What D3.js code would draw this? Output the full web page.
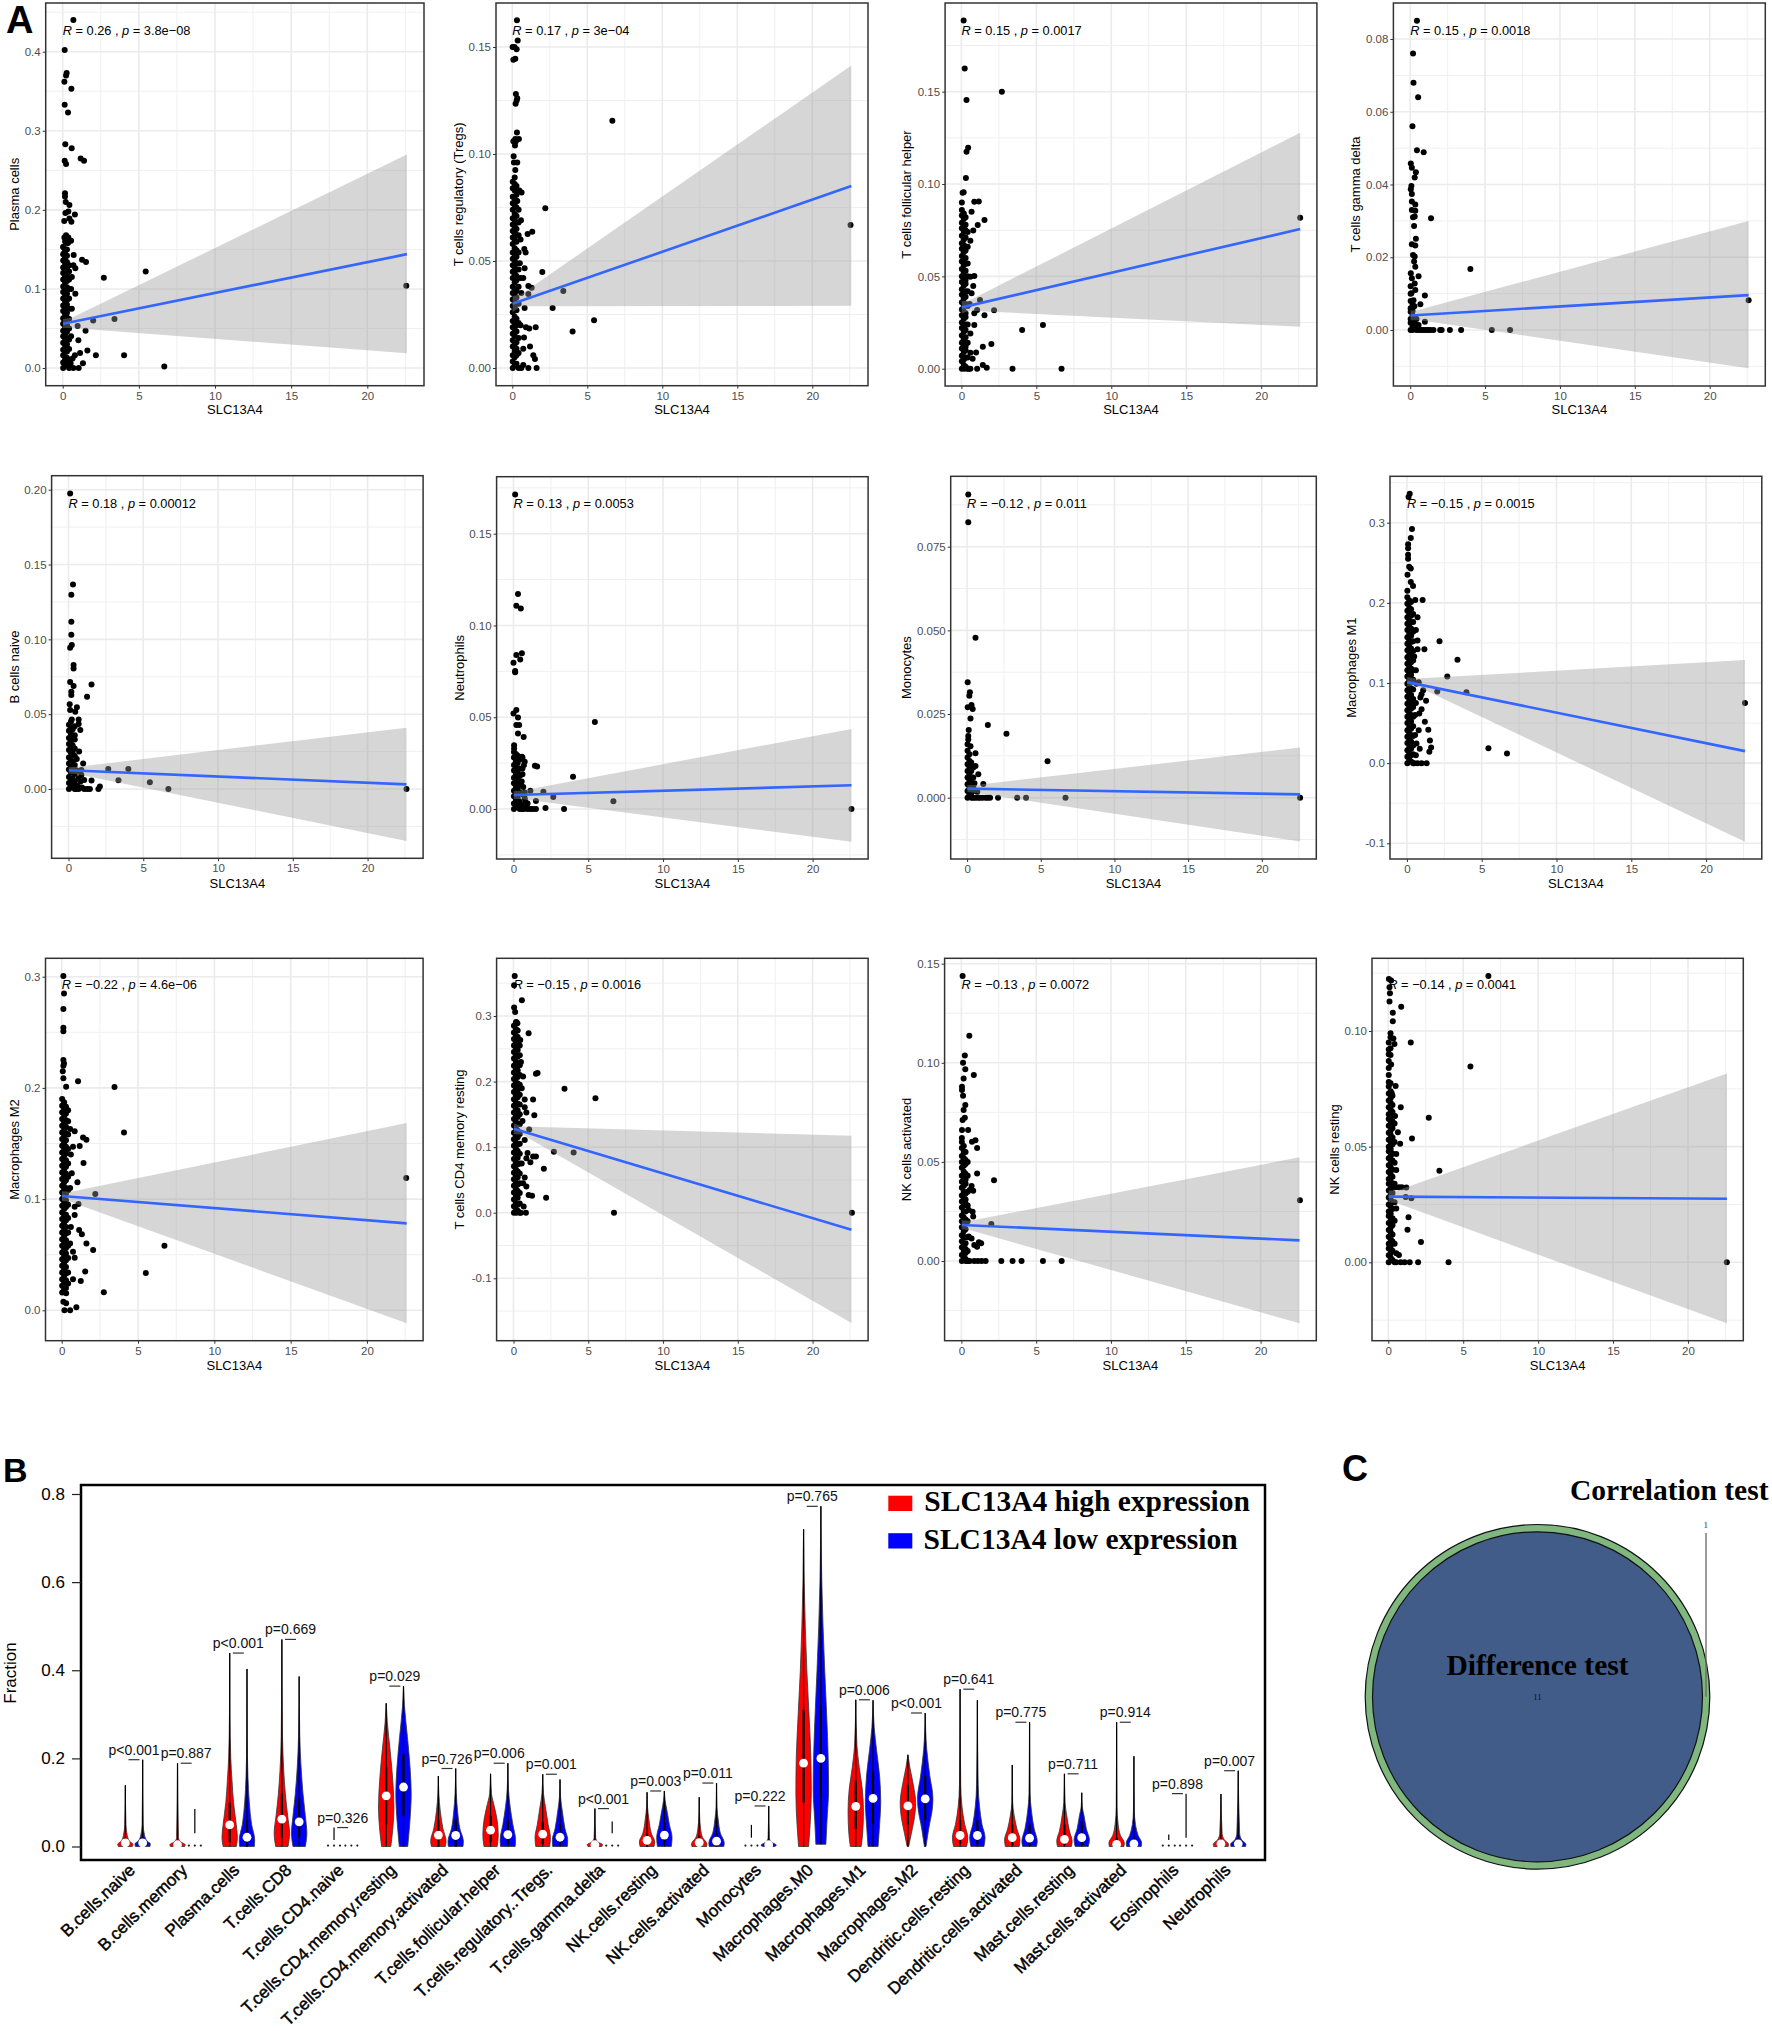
<!DOCTYPE html>
<html>
<head>
<meta charset="utf-8">
<title>SLC13A4 immune infiltration</title>
<script src="https://cdn.jsdelivr.net/npm/d3@7"></script>
<style>
  html, body { margin: 0; padding: 0; background: #fff; }
  svg { display: block; font-family: "Liberation Sans", Arial, sans-serif; }
</style>
</head>
<body>
<div id="chart"></div>
<script>
// ---- panel A data ----
const yTitles = ['Plasma cells', 'T cells regulatory (Tregs)', 'T cells follicular helper', 'T cells gamma delta',
  'B cells naive', 'Neutrophils', 'Monocytes', 'Macrophages M1',
  'Macrophages M2', 'T cells CD4 memory resting', 'NK cells activated', 'NK cells resting'];
const rValues = ['0.26', '0.17', '0.15', '0.15', '0.18', '0.13', '\u22120.12', '\u22120.15', '\u22120.22', '\u22120.15', '\u22120.13', '\u22120.14'];
const pValues = ['3.8e\u221208', '3e\u221204', '0.0017', '0.0018', '0.00012', '0.0053', '0.011', '0.0015', '4.6e\u221206', '0.0016', '0.0072', '0.0041'];
const xTicks = [0, 5, 10, 15, 20];
const yTickLabels = [
  ['0.0', '0.1', '0.2', '0.3', '0.4'], ['0.00', '0.05', '0.10', '0.15'], ['0.00', '0.05', '0.10', '0.15'], ['0.00', '0.02', '0.04', '0.06', '0.08'],
  ['0.00', '0.05', '0.10', '0.15', '0.20'], ['0.00', '0.05', '0.10', '0.15'], ['0.000', '0.025', '0.050', '0.075'], ['-0.1', '0.0', '0.1', '0.2', '0.3'],
  ['0.0', '0.1', '0.2', '0.3'], ['-0.1', '0.0', '0.1', '0.2', '0.3'], ['0.00', '0.05', '0.10', '0.15'], ['0.00', '0.05', '0.10']
];
// regression line and confidence band, read at x = fitX / ciX
const fitX = [0.02, 22.6];
const fitY = [[.056, .144], [.03, .085], [.0332, .0756], [.004, .0096], [.0125, .0031], [.0076, .0129],
  [.0027, .001], [.1011, .015], [.1028, .0782], [.1279, -.0259], [.0182, .0104], [.0284, .0275]];
const ciX = [0.02, 0.6, 22.6];
const ciHi = [[.062, .0635, .27], [.0336, .0345, .1413], [.0365, .0372, .1278], [.0053, .0056, .03], [.0145, .0148, .041], [.0098, .0101, .0436],
  [.0037, .0038, .015], [.1075, .1055, .1286], [.107, .1065, .1684], [.136, .1315, .1173], [.0205, .0203, .0523], [.031, .031, .0816]];
const ciLo = [[.0505, .0505, .0186], [.0262, .0288, .0291], [.03, .0314, .0227], [.0027, .0027, -.0105], [.0103, .0098, -.0347], [.0054, .0053, -.0178],
  [.0017, .0014, -.0131], [.0955, .0965, -.0982], [.0985, .0975, -.0117], [.12, .1188, -.168], [.016, .0155, -.0314], [.026, .0255, -.0264]];

// the crowded column next to x = 0: four strips of y values at denseX
const denseX = [0.03, 0.16, 0.42, 0.28];
const plasmaDense = [
  [0, .007, .016, .023, .032, .04, .047, .056, .063, .072, .079, .088, .096, .103, .112, .12, .127, .136, .144, .153],
  [.003, .011, .02, .028, .035, .044, .052, .06, .068, .076, .084, .092, .1, .108, .116, .124, .132, .14, .148, .16],
  [0, .01, .024, .036, .05, .062, .075, .088, .1, .112, .122, .13],
  [.005, .013, .021, .03, .038, .046, .054, .064, .07, .08, .086, .094, .102, .11, .118, .126, .134, .142, .15, .158]];
const tregDense = [
  [0, .003, .006, .01, .013, .016, .019, .022, .026, .029, .032, .035, .038, .042, .045, .048, .051, .054, .058, .061, .064, .067, .07, .074, .077, .08, .084, .087],
  [.001, .005, .008, .011, .015, .018, .021, .024, .028, .031, .034, .037, .04, .044, .047, .05, .053, .056, .06, .063, .066, .069, .072, .076, .079, .083, .086, .089],
  [0, .007, .014, .021, .03, .038, .046, .054, .062, .068, .074],
  [.002, .006, .009, .012, .017, .02, .023, .027, .03, .033, .036, .041, .043, .046, .049, .052, .055, .059, .062, .065, .068, .071, .075, .078, .081, .085]];
const tfhDense = [
  [0, .004, .007, .011, .014, .018, .022, .025, .029, .032, .036, .04, .043, .047, .05, .054, .058, .061, .065, .068, .072, .076, .079, .083, .086, .09],
  [.002, .005, .009, .013, .016, .02, .023, .027, .031, .034, .038, .041, .045, .049, .052, .056, .059, .063, .067, .07, .074, .077, .081, .084],
  [0, .006, .014, .024, .034, .042, .05, .057, .066, .074],
  [.001, .006, .01, .012, .017, .021, .024, .028, .03, .035, .039, .042, .046, .048, .053, .057, .06, .064, .066, .071, .075, .078, .082]];
const gammaDense = [
  [0, .002, .003, .005, .006, .008, .01, .012],
  [0, .001, .002, .004, .0052, .007],
  [0, .001, .003, .0015],
  [.0005, .0035, .0065]];
const bnaiveDense = [
  [0, .004, .008, .013, .017, .021, .026, .03, .034, .039, .043],
  [.002, .006, .011, .015, .019, .024, .028, .032, .037, .041, .045],
  [0, .005, .01, .016, .022, .027, .033, .036, .042],
  [.001, .003, .007, .012, .014, .018, .023, .025, .029, .033, .035, .04]];
const neutroDense = [
  [0, .003, .007, .01, .014, .017, .021, .024, .028, .031],
  [.001, .005, .008, .012, .016, .019, .023, .026, .03],
  [0, .004, .009, .013, .018, .022, .027],
  [.002, .004, .006, .009, .011, .015, .018, .02, .025, .029]];
const monoDense = [
  [0, .002, .004, .006, .008, .01, .012, .014, .016],
  [.001, .003, .005, .007, .009, .011, .013],
  [0, .002, .004, .006, .009, .0035],
  [.0005, .0025, .0055, .008, .0105]];
const m1Dense = [
  [0, .008, .016, .025, .033, .041, .05, .058, .066, .074, .083, .091, .099, .108, .116, .124, .132, .141, .149, .157, .166, .174, .182, .19, .199, .207, .215],
  [.004, .012, .02, .029, .037, .045, .054, .062, .07, .078, .087, .095, .103, .112, .12, .128, .136, .145, .153, .161, .17, .178, .186, .194, .203],
  [0, .011, .022, .034, .046, .058, .07, .08, .092, .104, .116, .128, .14, .152, .164, .176, .186],
  [.002, .01, .018, .027, .035, .043, .052, .06, .068, .076, .085, .093, .101, .11, .118, .126, .134, .143, .151, .159, .168, .176, .184, .192, .201]];
const m2Dense = [
  [.016, .022, .028, .034, .04, .046, .052, .058, .064, .07, .076, .082, .088, .094, .1, .106, .112, .118, .124, .13, .136, .142, .148, .154, .16, .166, .172, .178, .184, .19],
  [.019, .025, .031, .037, .043, .049, .055, .061, .067, .073, .079, .085, .091, .097, .103, .109, .115, .121, .127, .133, .139, .145, .151, .157, .163, .169, .175, .181, .187],
  [.024, .034, .047, .058, .07, .083, .095, .108, .12, .132, .145, .158, .17, .18],
  [.02, .027, .033, .039, .045, .051, .056, .063, .069, .075, .081, .086, .093, .099, .105, .11, .117, .123, .129, .135, .141, .147, .153, .159, .165, .171, .177, .183]];
const cd4Dense = [
  [0, .01, .02, .031, .041, .051, .061, .071, .082, .092, .102, .112, .122, .133, .143, .153, .163, .173, .184, .194, .204, .214, .224, .235, .245, .255, .265, .275, .285],
  [.005, .015, .026, .036, .046, .056, .066, .077, .087, .097, .107, .117, .128, .138, .148, .158, .168, .179, .189, .199, .209, .219, .23, .24, .25, .26, .27, .28, .29],
  [0, .014, .03, .045, .06, .075, .09, .105, .12, .135, .15, .165, .18, .195, .21, .225, .24, .255],
  [.003, .012, .023, .033, .043, .054, .063, .074, .084, .094, .104, .115, .125, .136, .146, .156, .166, .176, .187, .197, .207, .217, .227, .238, .248, .258, .268, .278]];
const nkaDense = [
  [0, .003, .007, .01, .013, .017, .02, .023, .027, .03, .033, .037, .04, .043, .047, .05, .053, .057, .06, .062],
  [.002, .005, .008, .012, .015, .018, .022, .025, .028, .032, .035, .038, .042, .045, .048, .052, .055, .058],
  [0, .005, .012, .02, .028, .035, .043, .05],
  [.001, .004, .006, .009, .012, .016, .019, .021, .025, .029, .031, .034, .039, .041, .044, .049, .051, .055]];
const nkrDense = [
  [0, .003, .006, .008, .011, .014, .017, .02, .022, .025, .028, .031, .034, .036, .039, .042, .045, .048, .05, .053, .056, .059, .062, .064, .067, .07, .073, .076, .078, .081, .084, .087, .09, .092, .095],
  [.002, .004, .007, .01, .013, .015, .018, .021, .024, .027, .029, .032, .035, .038, .041, .043, .046, .049, .052, .055, .057, .06, .063, .066, .069, .071, .074],
  [0, .008, .018, .026, .034, .043, .052, .06],
  [.001, .005, .009, .012, .016, .019, .023, .026, .03, .033, .037, .04, .044, .047, .051, .054, .058, .061, .065, .068, .072]];

// the points that can be told apart, [x, y]
const plasmaPts = [[.7, .44], [.13, .402], [.22, .37], [.26, .373], [.11, .362], [.57, .353], [.13, .333], [.35, .323], [.17, .283], [.59, .278], [.13, .262], [.22, .258], [1.18, .265], [1.4, .262], [.15, .221], [.15, .217], [.2, .21], [.44, .206], [.18, .196], [.8, .194], [.37, .198], [.1, .186], [.57, .185], [.44, .189], [.22, .168], [.37, .165], [.55, .161], [.11, .165], [.35, .158], [.05, .153], [.72, .143], [1.27, .137], [1.53, .134], [.09, .145], [.7, .13], [.83, .126], [2.7, .114], [5.45, .122], [22.56, .104], [.83, .094], [3.4, .062], [2, .06], [.98, .053], [1.5, .047], [1.03, .035], [1.62, .022], [2.18, .016], [4.03, .016], [6.67, .002], [1.33, .006], [1.05, 0], [1.14, .019], [.8, .016], [.65, .012], [.52, .006], [.6, .115], [.55, .1], [.6, .075], [.55, .04], [.7, 0]];
const tregPts = [[.31, .1625], [.36, .153], [.02, .15], [.15, .15], [.29, .149], [.07, .144], [.2, .1445], [.24, .128], [.33, .126], [.29, .125], [.22, .1235], [6.67, .1155], [.31, .11], [.2, .107], [.44, .107], [.07, .106], [.24, .106], [.18, .104], [.09, .099], [.11, .096], [.33, .096], [.2, .0925], [2.2, .0746], [22.55, .0668], [1.33, .0637], [1.02, .0626], [.58, .069], [.8, .0556], [.89, .054], [.82, .0466], [2, .0449], [1.07, .0383], [1.29, .0375], [3.4, .036], [1.07, .0346], [2.69, .028], [.82, .028], [5.45, .0223], [4.02, .017], [.91, .019], [1.13, .0185], [1.56, .019], [.78, .0142], [1.18, .0101], [1.4, .006], [1.51, .0042], [1.62, 0], [1.07, 0], [.73, .0014], [.73, .009], [.56, .042], [.73, .042], [.5, .049], [.47, .083], [.62, .082], [.33, .078], [.55, .06], [.6, .035], [.55, .02], [.6, 0]];
const tfhPts = [[.15, .1885], [.22, .1625], [2.7, .15], [.34, .1455], [.45, .1197], [.34, .1175], [.3, .1032], [.08, .0953], [.15, .0955], [.86, .0904], [1.16, .0906], [1.54, .0805], [22.6, .0818], [1.09, .0778], [.79, .0749], [.68, .085], [.6, .0693], [.86, .0502], [.6, .0498], [.79, .0448], [.68, .0408], [1.24, .0372], [2.18, .0316], [1.54, .029], [.86, .0236], [5.44, .0236], [4.05, .0209], [2, .0134], [1.43, .0119], [.98, .0088], [.6, .0087], [.75, .0054], [1.43, .002], [1.69, .0005], [1.05, 0], [3.41, 0], [6.68, 0], [.49, 0], [.22, 0], [.86, .03], [1.05, .0318], [.6, .019], [.55, .035], [.6, 0]];
const gammaPts = [[.45, .085], [.19, .076], [.22, .068], [.53, .064], [.15, .056], [.45, .0494], [.9, .0489], [.04, .0458], [.11, .0446], [.38, .0434], [.3, .0419], [.08, .0396], [.04, .0387], [.11, .0374], [.11, .0353], [.34, .0345], [.11, .033], [.34, .0328], [.19, .031], [1.39, .0307], [.3, .0312], [.26, .0286], [.38, .0251], [.11, .0236], [.34, .0232], [.19, .0206], [.3, .0202], [.26, .0188], [4.02, .0168], [.34, .0174], [.04, .0156], [.56, .0148], [.11, .0142], [.3, .0128], [.34, .011], [.98, .0095], [.08, .0101], [.22, .0082], [.68, .0071], [22.6, .0082], [.11, .0055], [.98, .0023], [.19, .0023], [.56, .0014], [.6, 0], [.75, 0], [.9, 0], [1.05, 0], [1.2, 0], [1.35, 0], [1.55, 0], [2, 0], [2.1, 0], [2.65, 0], [3.4, 0], [5.45, 0], [6.67, 0]];
const bnaivePts = [[.11, .1975], [.3, .1367], [.19, .1298], [.19, .1118], [.19, .1031], [.11, .0944], [.22, .0962], [.34, .0829], [.34, .0806], [.11, .0715], [1.54, .0699], [.34, .0688], [.19, .065], [.19, .0628], [1.24, .0617], [.08, .0566], [.56, .0546], [.45, .0517], [.11, .0528], [.22, .0465], [.68, .0465], [.68, .0434], [.79, .0394], [2.66, .0134], [4, .0134], [3.34, .0058], [5.44, .0045], [6.68, 0], [22.6, 0], [.71, .025], [.98, .0171], [.86, .0094], [1.05, .006], [1.54, .0056], [2.1, .0016], [2, 0], [1.43, 0], [1.05, 0], [.68, 0], [.49, .0127], [.86, .0127], [.68, .0071], [.6, .002], [.7, .012], [.8, .005], [.55, .02], [.5, 0], [.9, .001], [1.25, 0]];
const neutroPts = [[.11, .1714], [.3, .1171], [.19, .1108], [.49, .1093], [.56, .0848], [.19, .0839], [.45, .0815], [0, .0797], [.11, .0752], [.11, .0745], [.19, .0539], [0, .0521], [.3, .0499], [.19, .0458], [.38, .0458], [.3, .0412], [.68, .0392], [5.44, .0474], [.04, .0347], [.04, .033], [3.98, .0176], [1.43, .0236], [1.58, .0231], [.56, .0285], [.75, .0258], [1.13, .01], [2, .0094], [2.66, .0065], [6.68, .0042], [1.5, .0044], [2.14, .0005], [3.38, 0], [22.6, 0], [1.5, 0], [1.13, 0], [.94, .003], [.94, 0], [.56, 0], [.75, .0058], [.55, .002], [.6, .008], [.7, 0], [.8, .004], [.65, .012], [.55, .015], [.75, .009], [.85, .001], [.6, .019], [.7, .024], [.6, .028], [1.3, 0], [.6, .022]];
const monoPts = [[.08, .0906], [.08, .0823], [.57, .0478], [.04, .0345], [.19, .0315], [.15, .0305], [.04, .027], [.3, .0277], [.38, .0265], [.23, .0237], [1.41, .0217], [2.67, .0191], [.11, .0202], [.08, .0184], [.08, .0174], [5.46, .0109], [.57, .0133], [.23, .0154], [.57, .0095], [.76, .007], [1.1, .0041], [22.6, 0], [6.68, 0], [4, 0], [3.4, 0], [2.1, 0], [1.56, 0], [1.26, 0], [.88, 0], [.57, 0], [.3, 0], [.5, .0043], [.69, .0018], [1.05, 0], [1.4, 0], [.75, 0]];
const m1Pts = [[.19, .336], [.11, .332], [.34, .292], [.26, .281], [.08, .273], [.08, .268], [.08, .26], [.08, .255], [.15, .245], [.26, .243], [.04, .235], [.26, .226], [.41, .221], [.56, .2035], [1.05, .2035], [.71, .182], [2.18, .152], [.71, .153], [.71, .142], [1.17, .142], [3.38, .129], [2.7, .108], [3.98, .0886], [2.03, .0895], [1.09, .091], [.98, .086], [.9, .082], [1.28, .078], [22.6, .075], [.98, .0674], [.83, .062], [1.2, .0516], [1.43, .0416], [1.54, .0283], [1.62, .0196], [1.5, .0141], [5.45, .0187], [6.69, .012], [.86, .018], [1.32, 0], [.71, 0], [.98, 0], [.49, 0], [.64, .0246], [.79, .041], [.64, .099], [.79, .101], [.6, .116], [.49, .133], [.6, .166], [.55, .06], [.6, .075], [.55, .035], [.6, .01]];
const m2Pts = [[.11, .3006], [.15, .285], [.11, .271], [.11, .254], [.11, .251], [.11, .225], [.15, .222], [.11, .22], [.07, .215], [1.07, .206], [3.46, .2008], [.11, .2086], [.29, .2011], [4.08, .16], [.55, .163], [.85, .161], [1.4, .1555], [1.62, .1534], [1.18, .1477], [.74, .1471], [1.43, .1325], [.66, .1232], [1.03, .1151], [2.2, .1046], [22.57, .119], [1.1, .0956], [.85, .0932], [.85, .0857], [1.14, .0722], [1.32, .0683], [1.62, .06], [6.73, .0581], [2.06, .0542], [.74, .0527], [.85, .0473], [1.54, .035], [5.51, .0336], [.74, .0279], [1.25, .0264], [2.76, .0162], [.96, .0027], [.55, 0], [.18, 0], [.29, .0063], [.11, .0078], [.29, .0153], [.6, .14], [.55, .11], [.6, .075], [.55, .06]];
const cd4Pts = [[.08, .361], [.04, .347], [.56, .324], [.04, .313], [.11, .306], [.19, .291], [.26, .289], [1.01, .2736], [.45, .2635], [1.61, .213], [1.5, .212], [.64, .2076], [3.41, .189], [5.48, .1746], [.75, .1726], [1.31, .1726], [.75, .161], [.86, .1528], [1.39, .1487], [1.05, .127], [.75, .111], [2.7, .093], [4.02, .092], [1.31, .0858], [1.5, .0858], [.94, .091], [1.13, .077], [.86, .083], [2.03, .067], [.75, .0538], [.86, .04], [1.01, .0269], [1.24, .0259], [2.18, .0228], [.68, .0096], [6.72, 0], [22.63, 0], [.83, 0], [.49, 0], [.19, 0], [.64, .045], [.5, .23], [.55, .19], [.6, .14], [.55, .075]];
const nkaPts = [[.08, .1438], [.53, .1137], [.23, .1037], [.11, .1], [.26, .0967], [.83, .0938], [.15, .0921], [.04, .0879], [.04, .0863], [.11, .0834], [.26, .0787], [.15, .0762], [.23, .0723], [.08, .0711], [.45, .0661], [.04, .0661], [.94, .0609], [.71, .0602], [1.05, .057], [1.05, .0442], [2.18, .0407], [.68, .0378], [.79, .0355], [22.63, .0306], [.75, .0249], [.79, .0224], [2, .0187], [.68, .0114], [1.17, .0094], [1.32, .0089], [.86, .0081], [1.05, .0072], [6.7, 0], [5.45, 0], [4.02, 0], [3.42, 0], [2.67, 0], [1.62, 0], [1.35, 0], [.86, 0], [.56, 0], [.3, 0], [.49, .0257], [.56, .0358], [.49, .0123], [1.1, 0]];
const nkrPts = [[6.68, .1238], [.04, .1225], [.19, .1218], [.08, .1189], [.11, .1163], [.08, .1127], [.86, .1105], [.3, .1079], [.3, .1042], [.15, .099], [.15, .0973], [.34, .0968], [1.5, .095], [.41, .0944], [.15, .0925], [5.48, .0846], [.15, .0896], [.19, .0855], [.15, .0774], [.49, .0762], [.23, .0731], [.83, .067], [2.7, .0625], [.45, .0633], [1.58, .0535], [.64, .0562], [.79, .0513], [.53, .0468], [3.41, .0396], [.53, .0399], [.71, .0324], [1.2, .0323], [.45, .0324], [1.16, .0282], [1.54, .0277], [.53, .0233], [1.35, .0195], [1.28, .0141], [2.18, .0088], [.53, .0039], [.71, .0032], [.53, 0], [.83, 0], [1.09, 0], [1.43, 0], [1.99, 0], [4.02, 0], [22.59, 0], [.9, .0324]];

const denseSets = [plasmaDense, tregDense, tfhDense, gammaDense, bnaiveDense, neutroDense, monoDense, m1Dense, m2Dense, cd4Dense, nkaDense, nkrDense];
const pointSets = [plasmaPts, tregPts, tfhPts, gammaPts, bnaivePts, neutroPts, monoPts, m1Pts, m2Pts, cd4Pts, nkaPts, nkrPts];

// ---- panel B data ----
const cellTypes = ['B.cells.naive', 'B.cells.memory', 'Plasma.cells', 'T.cells.CD8', 'T.cells.CD4.naive', 'T.cells.CD4.memory.resting', 'T.cells.CD4.memory.activated', 'T.cells.follicular.helper', 'T.cells.regulatory..Tregs.', 'T.cells.gamma.delta', 'NK.cells.resting', 'NK.cells.activated', 'Monocytes', 'Macrophages.M0', 'Macrophages.M1', 'Macrophages.M2', 'Dendritic.cells.resting', 'Dendritic.cells.activated', 'Mast.cells.resting', 'Mast.cells.activated', 'Eosinophils', 'Neutrophils'];
const pLabels = ['p<0.001', 'p=0.887', 'p<0.001', 'p=0.669', 'p=0.326', 'p=0.029', 'p=0.726', 'p=0.006', 'p=0.001', 'p<0.001', 'p=0.003', 'p=0.011', 'p=0.222', 'p=0.765', 'p=0.006', 'p<0.001', 'p=0.641', 'p=0.775', 'p=0.711', 'p=0.914', 'p=0.898', 'p=0.007'];
const fractionTicks = [0, .2, .4, .6, .8];
const highMedian = [.008, .004, .049, .062, null, .115, .026, .037, .028, .004, .014, .009, null, .189, .091, .092, .025, .02, .016, .005, null, .006];
const lowMedian = [.008, null, .021, .056, null, .135, .025, .027, .021, null, .026, .012, .004, .2, .109, .108, .025, .019, .02, .006, null, .006];
const highQ1 = [0, 0, .01, .02, 0, .05, 0, .01, .005, 0, 0, 0, 0, .1, .04, .05, .005, .002, .002, 0, 0, 0];
const highQ3 = [.02, .012, .1, .12, 0, .18, .06, .07, .055, .01, .03, .025, 0, .31, .15, .14, .06, .05, .05, .02, 0, .015];
const lowQ1 = [0, 0, 0, .02, 0, .07, 0, .005, .005, 0, .005, 0, 0, .11, .05, .06, .005, .002, .002, 0, 0, 0];
const lowQ3 = [.02, 0, .06, .11, 0, .21, .06, .06, .05, 0, .055, .03, .01, .32, .17, .16, .06, .05, .055, .02, 0, .015];
// violin outlines: [value, relative half width]; width 0 at the bottom means only a stem and stray dots
const highShape = [
  [[0, .9], [.005, 1], [.012, .55], [.025, .25], [.05, .08], [.139, 0]],
  [[0, .9], [.004, 1], [.01, .45], [.02, .12], [.189, 0]],
  [[0, .85], [.02, 1], [.05, .85], [.1, .5], [.15, .3], [.2, .14], [.3, .03], [.439, 0]],
  [[0, .8], [.03, 1], [.07, .75], [.12, .45], [.17, .25], [.25, .08], [.47, 0]],
  [[.015, 0], [.043, 0]],
  [[0, .6], [.03, .8], [.09, 1], [.15, .85], [.22, .5], [.28, .15], [.325, 0]],
  [[0, .9], [.012, 1], [.04, .6], [.08, .25], [.12, .06], [.16, 0]],
  [[0, .85], [.025, 1], [.06, .85], [.09, .5], [.12, .12], [.165, 0]],
  [[0, .9], [.02, 1], [.05, .7], [.09, .35], [.12, .1], [.164, 0]],
  [[0, .9], [.004, 1], [.01, .4], [.02, .1], [.086, 0]],
  [[0, .9], [.01, 1], [.03, .55], [.06, .25], [.09, .06], [.123, 0]],
  [[0, .95], [.006, 1], [.02, .45], [.04, .18], [.07, .05], [.112, 0]],
  [[.02, 0], [.049, 0]],
  [[0, .65], [.05, .85], [.12, 1], [.2, .95], [.3, .7], [.4, .42], [.5, .22], [.6, .08], [.72, 0]],
  [[0, .7], [.03, .9], [.08, 1], [.13, .85], [.18, .45], [.23, .15], [.333, 0]],
  [[0, .1], [.03, .45], [.08, .95], [.1, 1], [.14, .7], [.18, .25], [.208, 0]],
  [[0, .85], [.02, 1], [.05, .6], [.09, .25], [.14, .08], [.357, 0]],
  [[0, .9], [.015, 1], [.04, .6], [.07, .25], [.1, .05], [.185, 0]],
  [[0, .9], [.012, 1], [.035, .65], [.07, .3], [.1, .08], [.165, 0]],
  [[0, .95], [.008, 1], [.025, .5], [.05, .2], [.09, .05], [.282, 0]],
  [[.015, 0], [.027, 0]],
  [[0, .95], [.005, 1], [.015, .45], [.03, .15], [.119, 0]]
];
const lowShape = [
  [[0, .95], [.006, 1], [.012, .6], [.025, .25], [.05, .07], [.197, 0]],
  [[.03, 0], [.085, 0]],
  [[0, .95], [.015, 1], [.05, .6], [.1, .3], [.16, .12], [.25, .03], [.403, 0]],
  [[0, .8], [.03, 1], [.07, .8], [.12, .5], [.18, .25], [.25, .08], [.386, 0]],
  [[.012, 0], [.013, 0]],
  [[0, .55], [.05, .8], [.12, 1], [.18, .85], [.25, .5], [.32, .12], [.364, 0]],
  [[0, .95], [.012, 1], [.04, .55], [.08, .25], [.12, .08], [.177, 0]],
  [[0, .95], [.015, 1], [.05, .65], [.09, .3], [.13, .08], [.189, 0]],
  [[0, .95], [.015, 1], [.04, .65], [.08, .3], [.11, .08], [.152, 0]],
  [[.03, 0], [.057, 0]],
  [[0, .9], [.02, 1], [.05, .65], [.08, .35], [.105, .1], [.126, 0]],
  [[0, .95], [.008, 1], [.03, .5], [.06, .22], [.09, .05], [.144, 0]],
  [[0, .75], [.003, 1], [.01, .35], [.02, .08], [.092, 0]],
  [[.005, .65], [.06, .8], [.13, 1], [.2, .95], [.3, .75], [.4, .5], [.5, .28], [.6, .12], [.772, 0]],
  [[0, .65], [.05, .85], [.1, 1], [.16, .85], [.22, .45], [.27, .15], [.332, 0]],
  [[0, .1], [.04, .45], [.09, .95], [.11, 1], [.16, .6], [.22, .2], [.303, 0]],
  [[0, .85], [.02, 1], [.05, .6], [.09, .28], [.14, .1], [.332, 0]],
  [[0, .9], [.012, 1], [.04, .6], [.08, .25], [.12, .07], [.282, 0]],
  [[0, .85], [.015, 1], [.04, .6], [.07, .3], [.09, .07], [.122, 0]],
  [[0, .95], [.008, 1], [.025, .55], [.05, .2], [.08, .06], [.205, 0]],
  [[.02, 0], [.12, 0]],
  [[0, .95], [.005, 1], [.015, .45], [.03, .18], [.172, 0]]
];
const legendLabels = ['SLC13A4 high expression', 'SLC13A4 low expression'];

// ---- panel C data ----
const vennNames = ['Difference test', 'Correlation test'];
const vennCounts = ['11', '1'];

// ---- layout: one row per panel of A ----
// box left/right/top/bottom, px of x=0 and x=20, px of the first and last y tick, x of the y title
const panelLayout = [
  [45.7, 424, 3, 385.7, 62.7, 367.3, 368, 51.7, 14],
  [496, 868, 3, 385.7, 512.3, 812.3, 368, 47, 458],
  [945.1, 1316.9, 3, 386, 961.4, 1261.2, 368.7, 91.7, 906.9],
  [1393.4, 1765.3, 3, 386, 1410.2, 1709.7, 330, 39, 1355.7],
  [51.6, 423.1, 475.7, 858.3, 68.5, 367.6, 789, 489.7, 14],
  [496.6, 868.1, 476.7, 859, 513.5, 812.6, 809, 533.7, 459],
  [950.7, 1316.3, 476.3, 859, 967.1, 1261.8, 797.7, 546.7, 906.9],
  [1390, 1761.8, 476.3, 859, 1406.9, 1706.1, 843.3, 522.7, 1351.2],
  [45.5, 423.1, 958.3, 1340.7, 61.7, 367, 1310.3, 976.7, 14],
  [496.6, 868.1, 958.3, 1340.7, 513.5, 812.6, 1278.3, 1016, 459],
  [944.6, 1316.3, 958.3, 1340.7, 961.4, 1260.6, 1261, 963.7, 906.9],
  [1372, 1743.3, 958.3, 1340.7, 1388.3, 1688, 1262.3, 1031, 1334.3]
];
const xTitleY = [414, 888, 1370];
const statY = [35, 508, 989];

const width = 1772, height = 2031;
const svg = d3.select('#chart').append('svg').attr('width', width).attr('height', height);
svg.append('rect').attr('width', width).attr('height', height).attr('fill', '#fff');

// ---- panel A ----
panelLayout.forEach((box, i) => {
  const [left, right, top, bottom, x0, x20, yFirst, yLast, titleX] = box;
  const labels = yTickLabels[i];
  const values = labels.map(Number);
  const x = d3.scaleLinear().domain([0, 20]).range([x0, x20]);
  const y = d3.scaleLinear().domain([values[0], values[values.length - 1]]).range([yFirst, yLast]);
  const g = svg.append('g');

  // gridlines
  const step = values[1] - values[0];
  const yMinor = d3.range(values[0] - step / 2, values[values.length - 1] + step, step)
    .filter(v => y(v) > top && y(v) < bottom);
  const xMinor = d3.range(2.5, 25, 5);
  g.selectAll('.minor-y').data(yMinor).enter().append('line')
    .attr('x1', left).attr('x2', right).attr('y1', d => y(d)).attr('y2', d => y(d))
    .attr('stroke', '#f0f0f0').attr('stroke-width', 1);
  g.selectAll('.minor-x').data(xMinor).enter().append('line')
    .attr('y1', top).attr('y2', bottom).attr('x1', d => x(d)).attr('x2', d => x(d))
    .attr('stroke', '#f0f0f0').attr('stroke-width', 1);
  g.selectAll('.major-y').data(values).enter().append('line')
    .attr('x1', left).attr('x2', right).attr('y1', d => y(d)).attr('y2', d => y(d))
    .attr('stroke', '#ebebeb').attr('stroke-width', 1.6);
  g.selectAll('.major-x').data(xTicks).enter().append('line')
    .attr('y1', top).attr('y2', bottom).attr('x1', d => x(d)).attr('x2', d => x(d))
    .attr('stroke', '#ebebeb').attr('stroke-width', 1.6);

  // points
  const dense = denseSets[i].flatMap((col, k) => col.map(v => [denseX[k], v]));
  g.selectAll('circle').data(dense.concat(pointSets[i])).enter().append('circle')
    .attr('cx', d => x(d[0])).attr('cy', d => y(d[1])).attr('r', 3).attr('fill', '#000');

  // confidence band and regression line
  const band = d3.area().x(d => x(d)).y0((d, k) => y(ciLo[i][k])).y1((d, k) => y(ciHi[i][k]));
  g.append('path').attr('d', band(ciX)).attr('fill', '#999').attr('fill-opacity', 0.4);
  const fit = d3.line().x(d => x(d)).y((d, k) => y(fitY[i][k]));
  g.append('path').attr('d', fit(fitX)).attr('fill', 'none').attr('stroke', '#3366FF').attr('stroke-width', 2.6);

  // frame and axes
  g.append('rect').attr('x', left).attr('y', top).attr('width', right - left).attr('height', bottom - top)
    .attr('fill', 'none').attr('stroke', '#333').attr('stroke-width', 1.5);
  const xAxis = g.append('g').attr('transform', `translate(0,${bottom})`)
    .call(d3.axisBottom(x).tickValues(xTicks).tickSize(3).tickPadding(3));
  const yAxis = g.append('g').attr('transform', `translate(${left},0)`)
    .call(d3.axisLeft(y).tickValues(values).tickFormat((d, k) => labels[k]).tickSize(3).tickPadding(2));
  [xAxis, yAxis].forEach(a => {
    a.select('.domain').remove();
    a.selectAll('line').attr('stroke', '#333');
    a.selectAll('text').attr('fill', '#4d4d4d').attr('font-size', 11.5).attr('font-family', '"Liberation Sans"');
  });

  // titles
  const row = Math.floor(i / 4);
  g.append('text').attr('x', (left + right) / 2).attr('y', xTitleY[row]).attr('text-anchor', 'middle')
    .attr('font-size', 13).text('SLC13A4');
  g.append('text').attr('transform', `translate(${titleX},${(top + bottom) / 2}) rotate(-90)`)
    .attr('text-anchor', 'middle').attr('dy', '0.35em').attr('font-size', 13).text(yTitles[i]);

  const stat = g.append('text').attr('x', x0).attr('y', statY[row]).attr('font-size', 12.8);
  stat.append('tspan').attr('font-style', 'italic').text('R');
  stat.append('tspan').text(` = ${rValues[i]} , `);
  stat.append('tspan').attr('font-style', 'italic').text('p');
  stat.append('tspan').text(` = ${pValues[i]}`);
});

// ---- panel B ----
const violinBox = { left: 81, right: 1265, top: 1485, bottom: 1860 };
const fx = d3.scalePoint().domain(cellTypes).range([134, 1229.6]);
const fy = d3.scaleLinear().domain([0, 0.8]).range([1846.5, 1494]);
const halfWidth = d3.scaleLinear().domain([0, 1]).range([0, 7.7]);
const pairOffset = 8.65;
const gB = svg.append('g');

gB.append('rect').attr('x', violinBox.left).attr('y', violinBox.top)
  .attr('width', violinBox.right - violinBox.left).attr('height', violinBox.bottom - violinBox.top)
  .attr('fill', 'none').attr('stroke', '#000').attr('stroke-width', 2.5);

const fracAxis = gB.append('g').attr('transform', `translate(${violinBox.left},0)`)
  .call(d3.axisLeft(fy).tickValues(fractionTicks).tickFormat(d3.format('.1f')).tickSize(9).tickPadding(7));
fracAxis.select('.domain').remove();
fracAxis.selectAll('line').attr('stroke', '#222').attr('stroke-width', 1.2);
fracAxis.selectAll('text').attr('font-size', 17).attr('fill', '#000').attr('font-family', '"Liberation Sans"');

gB.append('text').attr('transform', `translate(10.5,1673) rotate(-90)`).attr('text-anchor', 'middle')
  .attr('dy', '0.35em').attr('font-size', 17).text('Fraction');

const drawViolin = (cx, shape, median, q1, q3, color) => {
  const top = shape[shape.length - 1][0];
  if (shape[0][1] === 0) {
    // too few non zero samples: stem with a few stray points on the baseline
    gB.selectAll(null).data([-6, 0, 6]).enter().append('circle')
      .attr('cx', d => cx + d).attr('cy', fy(0.002)).attr('r', 1.1).attr('fill', '#222');
    if (top > 0.02) {
      gB.append('line').attr('x1', cx).attr('x2', cx).attr('y1', fy(shape[0][0])).attr('y2', fy(top))
        .attr('stroke', '#000').attr('stroke-width', 1.2);
    }
    return;
  }
  const area = d3.area().curve(d3.curveMonotoneY)
    .x0(d => cx - halfWidth(d[1])).x1(d => cx + halfWidth(d[1])).y(d => fy(d[0]));
  gB.append('path').attr('d', area(shape)).attr('fill', color).attr('stroke', '#333').attr('stroke-width', 0.8);
  gB.append('line').attr('x1', cx).attr('x2', cx).attr('y1', fy(shape[0][0])).attr('y2', fy(top))
    .attr('stroke', '#000').attr('stroke-width', 1.2);
  gB.append('line').attr('x1', cx).attr('x2', cx).attr('y1', fy(q1)).attr('y2', fy(q3))
    .attr('stroke', '#000').attr('stroke-width', 2.2);
  if (median !== null) {
    gB.append('circle').attr('cx', cx).attr('cy', fy(median)).attr('r', 4.4).attr('fill', '#fff');
  }
};

cellTypes.forEach((name, i) => {
  const cx = fx(name);
  drawViolin(cx - pairOffset, highShape[i], highMedian[i], highQ1[i], highQ3[i], '#f00');
  drawViolin(cx + pairOffset, lowShape[i], lowMedian[i], lowQ1[i], lowQ3[i], '#00f');

  // p value bracket sits on the taller violin
  const peak = Math.max(highShape[i][highShape[i].length - 1][0], lowShape[i][lowShape[i].length - 1][0]);
  gB.append('line').attr('x1', cx - 5.5).attr('x2', cx + 5.5).attr('y1', fy(peak)).attr('y2', fy(peak))
    .attr('stroke', '#333').attr('stroke-width', 1.2);
  gB.append('text').attr('x', cx).attr('y', fy(peak) - 5).attr('text-anchor', 'middle')
    .attr('font-size', 14).attr('fill', '#111').text(pLabels[i]);

  gB.append('text').attr('transform', `translate(${cx - 5},${violinBox.bottom + 4}) rotate(-44)`)
    .attr('text-anchor', 'end').attr('dy', '0.6em').attr('font-size', 17).attr('fill', '#000')
    .attr('stroke', '#000').attr('stroke-width', 0.45).text(name);
});

// legend
const legendColors = ['#f00', '#00f'];
const legendY = [1511, 1548.5];
const legendTextX = [924.3, 923.5];
legendLabels.forEach((label, i) => {
  gB.append('rect').attr('x', 888.3).attr('y', legendY[i] - 15.3).attr('width', 24).attr('height', 15.3).attr('fill', legendColors[i]);
  gB.append('text').attr('x', legendTextX[i]).attr('y', legendY[i]).attr('font-family', '"Liberation Serif"')
    .attr('font-weight', 'bold').attr('font-size', 29.5).attr('fill', '#000').text(label);
});

// ---- panel C ----
const gC = svg.append('g');
const vennX = 1537.5, vennY = 1696.8;
gC.append('circle').attr('cx', vennX).attr('cy', vennY).attr('r', 172.3).attr('fill', '#7fb77e').attr('stroke', '#111').attr('stroke-width', 1.2);
gC.append('circle').attr('cx', vennX).attr('cy', vennY).attr('r', 165).attr('fill', '#425c8a').attr('stroke', '#111').attr('stroke-width', 1.2);
gC.append('line').attr('x1', 1706).attr('x2', 1706).attr('y1', 1533).attr('y2', 1696.7).attr('stroke', '#666').attr('stroke-width', 1.3);
gC.append('text').attr('x', vennX).attr('y', 1675).attr('text-anchor', 'middle').attr('font-family', '"Liberation Serif"')
  .attr('font-weight', 'bold').attr('font-size', 29.5).attr('fill', '#000').text(vennNames[0]);
gC.append('text').attr('x', 1570).attr('y', 1500).attr('font-family', '"Liberation Serif"')
  .attr('font-weight', 'bold').attr('font-size', 29.5).attr('fill', '#000').text(vennNames[1]);
gC.append('text').attr('x', vennX).attr('y', 1700).attr('text-anchor', 'middle').attr('font-family', '"Liberation Serif"')
  .attr('font-size', 9).attr('fill', '#111').text(vennCounts[0]);
gC.append('text').attr('x', 1705.7).attr('y', 1528).attr('text-anchor', 'middle').attr('font-family', '"Liberation Serif"')
  .attr('font-size', 9).attr('fill', '#234').text(vennCounts[1]);

// panel letters
const letters = ['A', 'B', 'C'];
const letterX = [6, 3, 1342];
const letterY = [33, 1481.5, 1481];
const letterSize = [38, 34, 36];
letters.forEach((t, i) => {
  svg.append('text').attr('x', letterX[i]).attr('y', letterY[i]).attr('font-size', letterSize[i])
    .attr('font-weight', 'bold').attr('fill', '#000').text(t);
});
</script>
</body>
</html>
